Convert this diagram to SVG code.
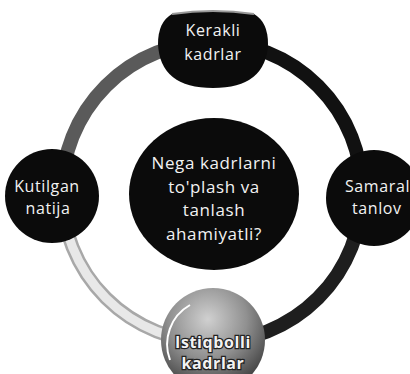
<svg xmlns="http://www.w3.org/2000/svg" width="410" height="374" viewBox="0 0 410 374">
<defs>
<style>
.node{fill:#0b0b0b}
.t{font-family:"Open Sans","Noto Sans","DejaVu Sans",sans-serif;fill:#f2f2f2;text-anchor:middle;letter-spacing:0.6px}
.ring{fill:none;stroke-width:14}
</style>
<radialGradient id="bg" cx="0.45" cy="0.3" r="0.75">
<stop offset="0" stop-color="#d0d0d0"/>
<stop offset="0.5" stop-color="#909090"/>
<stop offset="1" stop-color="#333"/>
</radialGradient>
</defs>
<rect width="410" height="374" fill="#fff"/>
<g id="connectors">
<path class="ring" d="M62,192 A150,150 0 0 1 212,42" stroke="#5a5a5a"/>
<path class="ring" d="M212,42 A150,150 0 0 1 362,192" stroke="#111"/>
<path class="ring" d="M362,192 A150,150 0 0 1 212,342" stroke="#1e1e1e"/>
<path class="ring" d="M212,342 A150,150 0 0 1 62,192" stroke="#a8a8a8"/>
<path d="M212,342 A150,150 0 0 1 62,192" fill="none" stroke="#e8e8e8" stroke-width="9"/>
</g>
<g id="center">
<ellipse class="node" cx="214" cy="194" rx="85" ry="76"/>
<text class="t" x="214" font-size="17"><tspan x="214" y="169">Nega kadrlarni</tspan><tspan x="214" y="193">to'plash va</tspan><tspan x="214" y="216">tanlash</tspan><tspan x="214" y="240">ahamiyatli?</tspan></text>
</g>
<g id="top">
<path class="node" d="M172,14 Q213,8 254,14 Q268,22 268,44 Q266,88 213,88 Q160,88 158,44 Q158,22 172,14 Z"/>
<path d="M172,14 Q213,8 254,14" fill="none" stroke="#999" stroke-width="2"/>
<text class="t" font-size="16"><tspan x="213" y="36">Kerakli</tspan><tspan x="213" y="60">kadrlar</tspan></text>
</g>
<g id="left">
<circle class="node" cx="52" cy="196" r="47"/>
<text class="t" font-size="16"><tspan x="47" y="192">Kutilgan</tspan><tspan x="48" y="214">natija</tspan></text>
</g>
<g id="right">
<circle class="node" cx="374" cy="198" r="48"/>
<text class="t" font-size="16" style="text-anchor:start"><tspan x="345" y="192">Samaral</tspan><tspan x="352" y="214">tanlov</tspan></text>
</g>
<g id="bottom">
<circle cx="213" cy="340" r="52" fill="url(#bg)"/>
<path d="M170,360 A45,45 0 0 1 190,305" fill="none" stroke="#fff" stroke-width="2"/>
<text class="t" font-size="16" stroke="#222" stroke-width="2.5" paint-order="stroke" font-weight="bold"><tspan x="213" y="348">Istiqbolli</tspan><tspan x="213" y="369">kadrlar</tspan></text>
</g>
</svg>
